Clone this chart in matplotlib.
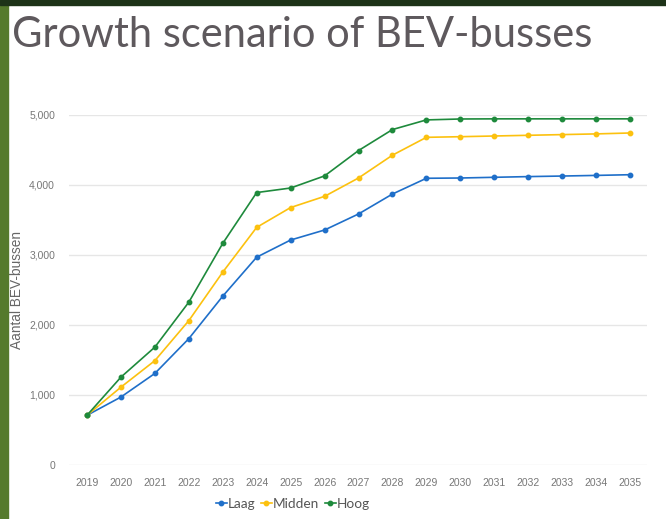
import numpy as np
import matplotlib
matplotlib.use('Agg')
import matplotlib.pyplot as plt
from matplotlib.patches import Rectangle
from matplotlib.ticker import FuncFormatter

years = list(range(2019, 2036))
laag = [710, 971, 1308, 1805, 2412, 2969, 3214, 3357, 3586, 3871, 4096,
        4100, 4110, 4120, 4128, 4137, 4147]
midden = [710, 1112, 1491, 2062, 2755, 3395, 3678, 3838, 4100, 4426, 4681,
          4690, 4700, 4710, 4720, 4730, 4743]
hoog = [710, 1255, 1684, 2326, 3166, 3892, 3957, 4130, 4492, 4792, 4930,
        4943, 4945, 4945, 4945, 4945, 4945]
series = [('Laag', laag, '#1f6fc9'),
          ('Midden', midden, '#fcc10f'),
          ('Hoog', hoog, '#1e8a3c')]

fig = plt.figure(figsize=(6.66, 5.19), dpi=100)
fig.patch.set_facecolor('white')

# slide background bits (green edge on the left, dark band on top)
fig.patches.append(Rectangle((0, 0), 8/666, 1, transform=fig.transFigure,
                             color='#557a2c', zorder=0))
fig.patches.append(Rectangle((0, 1 - 5/519), 1, 5/519, transform=fig.transFigure,
                             color='#1d3318', zorder=0))

fig.text(12/666, 1 - 47/519, 'Growth scenario of BEV-busses', family='Lato',
         fontsize=30, color='#5e595d', ha='left', va='baseline')

ax = fig.add_axes([69/666, 1 - 465/519, 578/666, 350/519])
for name, vals, col in series:
    ax.plot(years, vals, color=col, lw=1.2, marker='o', ms=3.2, label=name)

ax.set_xlim(2018.47, 2035.5)
ax.set_ylim(0, 5000)
ax.set_xticks(years)
ax.set_yticks(range(0, 5001, 1000))
ax.yaxis.set_major_formatter(FuncFormatter(lambda v, p: '{:,.0f}'.format(v)))
ax.grid(axis='y', color='#e6e6e6', lw=1)
ax.set_axisbelow(True)
for s in ax.spines.values():
    s.set_visible(False)
ax.tick_params(length=0, labelsize=7.5, labelcolor='#777777',
               labelfontfamily='Liberation Sans')
ax.tick_params(axis='x', pad=9)
ax.tick_params(axis='y', pad=10)
ax.set_ylabel('Aantal BEV-bussen', fontsize=9.8, color='#666666',
              family='Liberation Sans')
ax.yaxis.set_label_coords(-45/578, 0.5)

leg = ax.legend(loc='upper center', bbox_to_anchor=(0.3875, -0.058), ncol=3,
                frameon=False, handlelength=0.8, handletextpad=0.1,
                columnspacing=0.4, prop={'family': 'Lato', 'size': 9.8})
for t in leg.get_texts():
    t.set_color('#555555')

fig.savefig('out.png', dpi=100)
